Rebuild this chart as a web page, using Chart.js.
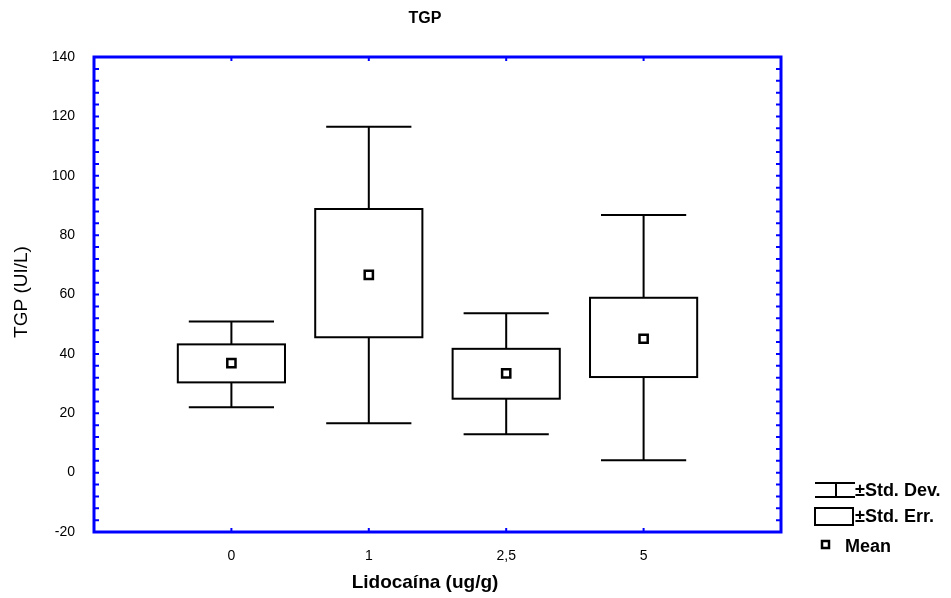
<!DOCTYPE html>
<html>
<head>
<meta charset="utf-8">
<script src="https://cdn.jsdelivr.net/npm/chart.js@4"></script>
<style>
    html, body { margin: 0; padding: 0; background: #fff; }
    #wrap { width: 951px; height: 598px; }
</style>
</head>
<body>
<div id="wrap"><canvas id="tgpChart" width="951" height="598"></canvas></div>
<script>
        // Data
        const groups = ['0', '1', '2,5', '5'];
        const means = [36.9, 66.6, 33.4, 45.1];
        const seLow = [30.4, 45.6, 24.9, 32.2];
        const seHigh = [43.2, 88.8, 41.7, 58.9];
        const sdLow = [22.0, 16.6, 12.9, 4.2];
        const sdHigh = [50.9, 116.5, 53.7, 86.8];
        const yTicks = [-20, 0, 20, 40, 60, 80, 100, 120, 140];

        const FONT = '"Liberation Sans", Arial, sans-serif';
        const BLUE = '#0000ff';

        // boxes + whiskers, drawn under the mean markers
        const boxPlugin = {
            id: 'boxPlugin',
            beforeDatasetsDraw(chart) {
                const ctx = chart.ctx;
                const x = chart.scales.x;
                const y = chart.scales.y;
                ctx.save();
                ctx.strokeStyle = '#000';
                ctx.lineWidth = 2;
                groups.forEach((g, i) => {
                    const c = x.getPixelForValue(i + 1);
                    const capL = x.getPixelForValue(i + 1 - 0.31);
                    const capR = x.getPixelForValue(i + 1 + 0.31);
                    const boxL = x.getPixelForValue(i + 1 - 0.39);
                    const boxR = x.getPixelForValue(i + 1 + 0.39);
                    const yTop = y.getPixelForValue(sdHigh[i]);
                    const yBot = y.getPixelForValue(sdLow[i]);
                    const bTop = y.getPixelForValue(seHigh[i]);
                    const bBot = y.getPixelForValue(seLow[i]);

                    ctx.beginPath();
                    ctx.moveTo(capL, yTop); ctx.lineTo(capR, yTop);
                    ctx.moveTo(c, yTop); ctx.lineTo(c, bTop);
                    ctx.moveTo(c, bBot); ctx.lineTo(c, yBot);
                    ctx.moveTo(capL, yBot); ctx.lineTo(capR, yBot);
                    ctx.stroke();

                    ctx.fillStyle = '#fff';
                    ctx.fillRect(boxL, bTop, boxR - boxL, bBot - bTop);
                    ctx.strokeRect(boxL, bTop, boxR - boxL, bBot - bTop);
                });
                ctx.restore();
            },
            afterDraw(chart) {
                const ctx = chart.ctx;
                const a = chart.chartArea;
                const x = chart.scales.x;
                const y = chart.scales.y;
                ctx.save();

                // blue frame with inner ticks
                ctx.strokeStyle = BLUE;
                ctx.lineWidth = 2;
                ctx.beginPath();
                for (let v = -20; v <= 140; v += 4) {
                    const py = y.getPixelForValue(v);
                    ctx.moveTo(a.left, py); ctx.lineTo(a.left + 5, py);
                    ctx.moveTo(a.right, py); ctx.lineTo(a.right - 5, py);
                }
                groups.forEach((g, i) => {
                    const px = x.getPixelForValue(i + 1);
                    ctx.moveTo(px, a.top); ctx.lineTo(px, a.top + 4);
                    ctx.moveTo(px, a.bottom); ctx.lineTo(px, a.bottom - 4);
                });
                ctx.stroke();
                ctx.lineWidth = 3;
                ctx.strokeRect(a.left, a.top, a.right - a.left, a.bottom - a.top);

                // titles
                ctx.fillStyle = '#000';
                ctx.textAlign = 'center';
                ctx.textBaseline = 'middle';
                ctx.font = 'bold 16px ' + FONT;
                ctx.fillText('TGP', 425, 19);
                ctx.font = 'bold 19px ' + FONT;
                ctx.fillText('Lidocaína (ug/g)', 425, 583);
                ctx.save();
                ctx.translate(22, 292);
                ctx.rotate(-Math.PI / 2);
                ctx.font = '19px ' + FONT;
                ctx.fillText('TGP (UI/L)', 0, 0);
                ctx.restore();

                // legend
                ctx.strokeStyle = '#000';
                ctx.lineWidth = 2;
                ctx.beginPath();
                ctx.moveTo(815, 483); ctx.lineTo(855, 483);
                ctx.moveTo(836, 483); ctx.lineTo(836, 497);
                ctx.moveTo(815, 497); ctx.lineTo(855, 497);
                ctx.stroke();
                ctx.strokeRect(815, 508, 38, 17);
                ctx.lineWidth = 2.5;
                ctx.strokeRect(822, 541, 7, 7);

                ctx.textAlign = 'left';
                ctx.font = 'bold 18px ' + FONT;
                ctx.fillText('±Std. Dev.', 855, 491);
                ctx.fillText('±Std. Err.', 855, 517);
                ctx.fillText('Mean', 845, 547);
                ctx.restore();
            }
        };

        const ctx = document.getElementById('tgpChart').getContext('2d');
        new Chart(ctx, {
            type: 'scatter',
            data: {
                datasets: [{
                    label: 'Mean',
                    data: means.map((m, i) => ({ x: i + 1, y: m })),
                    pointStyle: 'rect',
                    pointRadius: 5.8,
                    pointBorderWidth: 2.5,
                    pointBorderColor: '#000',
                    pointBackgroundColor: '#fff'
                }]
            },
            options: {
                responsive: false,
                animation: false,
                layout: { padding: { top: 57, right: 170, left: 0, bottom: 0 } },
                plugins: {
                    legend: { display: false },
                    title: { display: false },
                    tooltip: { enabled: false }
                },
                scales: {
                    x: {
                        type: 'linear',
                        min: 0,
                        max: 5,
                        afterBuildTicks: s => { s.ticks = groups.map((g, i) => ({ value: i + 1 })); },
                        afterFit: s => { s.height = 66; },
                        grid: { display: false },
                        border: { display: false },
                        ticks: {
                            color: '#000',
                            padding: 8,
                            font: { size: 14, family: FONT },
                            callback: v => groups[v - 1]
                        }
                    },
                    y: {
                        min: -20,
                        max: 140,
                        afterBuildTicks: s => { s.ticks = yTicks.map(v => ({ value: v })); },
                        afterFit: s => { s.width = 94; },
                        grid: { display: false },
                        border: { display: false },
                        ticks: {
                            color: '#000',
                            padding: 11,
                            font: { size: 14, family: FONT }
                        }
                    }
                }
            },
            plugins: [boxPlugin]
        });
</script>
</body>
</html>
